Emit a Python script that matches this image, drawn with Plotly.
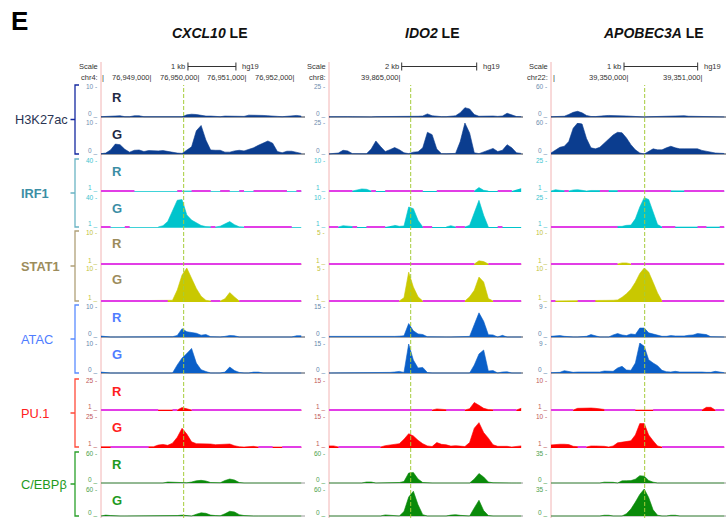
import plotly.graph_objects as go

W, H = 726, 518
N = None

# ---------------- genome windows (hg19) ----------------
GENES = ["CXCL10", "IDO2", "APOBEC3A"]
CHROMS = ["chr4:", "chr8:", "chr22:"]
WIN_START = [76947910, 39863053, 39348928]
WIN_END = [76952189, 39868227, 39351293]
BIN_BP = [100, 125, 60]
LE_POS = [76949644, 39865232, 39350194]
RULER_TICKS = [[76948000, 76949000, 76950000, 76951000, 76952000],
               [39865000],
               [39349000, 39350000, 39351000]]
RULER_LABELED = [[False, True, True, True, True], [True], [False, True, True]]
SCALE_BAR_START = [76949734, 39864992, 39349915]
SCALE_BAR_END = [76950740, 39866992, 39350910]
SCALE_BAR_TEXT = ["1 kb", "2 kb", "1 kb"]

MARKS = ["H3K27ac", "IRF1", "STAT1", "ATAC", "PU.1", "C/EBPβ"]
CONDS = ["R", "G"]
BASE_VAL = [0, 1, 1, 0, 1, 0]
TOP_VAL = {
    "H3K27ac": [10, 25, 60],
    "IRF1": [40, 10, 25],
    "STAT1": [10, 5, 10],
    "ATAC": [10, 15, 9],
    "PU.1": [25, 15, 10],
    "C/EBPβ": [60, 60, 35],
}

# ---------------- CXCL10 signal (100 bp bins) ----------------
CXCL10_H3K27AC_R = [0.1, 0.2, 0.4, 0.5, 0.4, 0.1, 0.1, 0.4, 0.4, 0.1,
                    0.1, 0.1, 0.1, 0.1, 0.1, 0.1, 0.1, 0.1, 0.7, 0.9,
                    0.8, 0.5, 0.3, 0.3, 0.2, 0.1, 0.3, 0.3, 0.1, 0.1,
                    0.2, 0.6, 0.6, 0.7, 0.5, 0.4, 0.4, 0.2, 0.1, 0.2,
                    0.5, 0.5, 0.3]
CXCL10_H3K27AC_G = [0.1, 0.3, 1.3, 3.2, 3.0, 1.5, 0.6, 1.2, 1.3, 0.8,
                    1.1, 1.0, 1.0, 1.1, 0.8, 0.5, 0.3, 0.2, 1.2, 2.3,
                    7.5, 9.2, 4.5, 1.3, 1.2, 1.2, 0.6, 0.6, 1.0, 1.2,
                    1.0, 1.5, 2.0, 2.8, 3.5, 4.2, 3.5, 0.8, 0.4, 0.9,
                    0.9, 0.6, 0.2]
CXCL10_IRF1_R = [1, 1, 1, 1, 1, 1, 1, 1, N, N,
                 N, N, N, N, N, N, 1, 1, 1.5, 1,
                 1, 1, 1, 1, N, 1, 1, 1, N, 1,
                 1, N, 1, 1, 1, 1, 1, 1, 1, 1,
                 N, 1, 1]
CXCL10_IRF1_G = [1, 1, 1, N, N, 1, 1, N, N, N,
                 N, N, 1, 2.7, 8.2, 21, 35.8, 36.6, 16.7, 10,
                 6, 3, 1.5, 1, 1, 2, 5.2, 8, 4, 1.2,
                 1, 1, 1, 1, 1, 1, 1, 1, 1, 1,
                 1, N, 1]
CXCL10_STAT1_R = [1] * 43
CXCL10_STAT1_G = [1, 1, 1, 1, 1, 1, 1, 1, 1, 1,
                  1, 1, 1, 1, 1, 1.2, 4, 8.1, 10, 7.2,
                  4.4, 2.3, 1.2, 1, 1, 1, 1.6, 3.3, 2.1, 1,
                  1, 1, 1, 1, 1, 1, 1, 1, 1, 1,
                  1, 1, 1]
CXCL10_ATAC_R = [0.3, 0.1, 0, 0, 0, 0, 0, 0, 0, 0,
                 0, 0, 0, 0, 0, 0.1, 0.5, 2.7, 1.7, 1.4,
                 1.2, 0.6, 0.8, 0.1, 0, 0, 0.2, 0.5, 0.4, 0,
                 0, 0, 0, 0, 0, 0, 0, 0, 0, 0,
                 0, 0.4, 0.4]
CXCL10_ATAC_G = [0.3, 0.1, 0, 0, 0, 0, 0, 0, 0, 0,
                 0, 0, 0, 0, 0, 0, 2.7, 5.0, 6.5, 8.2,
                 3.3, 1.1, 0.5, 0, 0, 0, 0.3, 2.0, 0.8, 0.2,
                 0, 0, 0.3, 0.3, 0, 0, 0, 0, 0, 0,
                 0, 0, 0]
CXCL10_PU1_R = [1, 1, 1, 1, 1, 1, 1, 1, 1, 1,
                1, 1, 1, 1.2, 1.2, 1, 1, 2.9, 2.2, 1,
                1, 1, 1, 1, 1, 1, 1, 1, 1, 1,
                1, 1, 1, 1, 1, 1, 1, 1, 1, 1,
                1, 1, 1]
CXCL10_PU1_G = [1.2, 1.2, 1, 1, 1, 1, 1, 1, 1, 1,
                1, 1.2, 2.5, 3.0, 2.3, 4.0, 8.5, 15.5, 11.0, 5.0,
                3.6, 3.6, 3.6, 3.3, 2.8, 2.8, 3.3, 3.3, 2.0, 1.2,
                1, 1.5, 1.5, 1, 1, 1, 1, 1.3, 1, 1,
                1, 1, 1]
CXCL10_CEBPB_R = [0, 0, 0, 0, 0, 0, 0, 0, 0, 0,
                  0, 0, 0, 0, 2, 1.5, 0, 0, 0.5, 2,
                  4.5, 5.3, 4, 1, 0, 0.5, 5, 8, 6, 1,
                  0, 0, 0, 0, 0, 0, 0, 0, 0, 0,
                  0, 0, 0]
CXCL10_CEBPB_G = [0, 2, 1, 0, 0, 0, 0, 0, 0, 0,
                  0, 0, 0, 0, 0, 0, 1, 2, 0.5, 0,
                  4, 7, 6, 2, 1, 0.5, 5, 10.5, 9, 3,
                  1, 0, 0, 0, 0, 0.5, 0.5, 0.5, 0.5, 0,
                  0, 0, 0]

# ---------------- IDO2 signal (125 bp bins) ----------------
IDO2_H3K27AC_R = [0.2, 0.3, 0.6, 0.8, 0.3, 0.2, 0.1, 0.1, 0.1, 0.1,
                  0.3, 0.3, 0.1, 0.1, 0.3, 0.3, 0.1, 0.1, 0.5, 0.6,
                  0.8, 2.5, 1.0, 0.4, 0.3, 0.3, 0.5, 1.0, 3.5, 7.5,
                  6.5, 2.0, 0.6, 0.8, 0.8, 0.8, 0.5, 0.8, 3.0, 2.0,
                  0.4, 0.3]
IDO2_H3K27AC_G = [0.1, 0.2, 0.8, 3.0, 2.5, 0.3, 0.1, 0.1, 0.2, 4.0,
                  10.5, 6.0, 2.0, 3.5, 5.2, 3.5, 1.0, 0.3, 1.5, 1.8,
                  5.0, 17.5, 15.6, 4.0, 0.3, 0.2, 0.3, 0.5, 10.0, 25.0,
                  17.0, 1.0, 0.3, 1.5, 3.0, 4.5, 2.0, 3.0, 7.5, 5.0,
                  1.0, 0.5]
IDO2_IRF1_R = [1, 1, 1, 1, 1, 1, 1.3, 1.6, 1.5, 1,
               1, N, 1, 1, 1, 1, 1, 1, 1, 1,
               1, N, N, 1, 1, 1, 1, 1, 1, 1,
               1, 1, 2.0, 1.2, 1, N, 1, 1, 1, 1,
               N, 1.8]
IDO2_IRF1_G = [1, 1, 1, 1.4, 1.2, 1, 1, N, 1, 1,
               1, 1, 1, N, 1.5, 1.2, 1.3, 7.0, 6.5, 3.0,
               1, 1, 1, N, N, 1, 1.4, 1, 1, 1,
               1.5, 5.0, 9.0, 4.5, 1, N, 1, 1, N, 1,
               N, 1]
IDO2_STAT1_R = [1, 1, 1, 1, 1, 1, 1, 1, 1, 1,
                1, 1, 1, 1, 1, 1, 1, 1, 1, 1,
                1, 1, 1, 1, 1, 1, 1, 1, 1, 1,
                1, 1, 1.4, 1.3, 1, 1, 1, 1, 1, 1,
                1, 1]
IDO2_STAT1_G = [1, 1, 1, 1, 1, 1, 1, 1, 1, 1,
                1, 1, 1, 1, 1, 1, 1.4, 4.5, 2.7, 1.5,
                1, 1, 1, 1, 1, 1, 1, 1, 1, 1,
                1.5, 2.3, 3.9, 3.3, 1.3, 1, 1, 1, 1, 1,
                1, 1]
IDO2_ATAC_R = [0.3, 0.3, 0.3, 0.2, 0.3, 0, 0, 0, 0, 0,
               0, 0, 0, 0.3, 0.3, 0.4, 0.6, 6.5, 3.0, 1.5,
               1.2, 0.1, 0, 0, 0, 0, 0, 0, 0, 0,
               0.3, 6.0, 11.7, 7.6, 1.1, 1.0, 0, 0.8, 0, 0,
               0, 0]
IDO2_ATAC_G = [0, 0, 0, 0, 0, 0, 0, 0, 0, 0,
               0, 0, 0, 0.3, 0.5, 0.8, 0.3, 14.5, 6.5, 2.5,
               2.8, 0.2, 0, 0, 0, 0, 0, 0, 0, 0,
               0, 4.0, 9.5, 11.5, 1.0, 1.2, 0, 0.5, 0.6, 0,
               0, 0]
IDO2_PU1_R = [1, 1, 1, 1, 1, 1, 1, 1, 1, 1,
              1, 1, 1, 1, 1, 1, 1, 1, 1, 1,
              1, 1, 1, 1.5, 1.3, 1, 1, 1, 1, 1,
              1.6, 4.5, 3.2, 1.8, 1.2, 1, 1, 1, 1, 1,
              1, 1.8]
IDO2_PU1_G = [1.5, 1.5, 1, 1, 1, 1, 1, 1, 1, 1,
              1, 1, 1.6, 1.8, 2.0, 2.5, 4.5, 7.0, 6.0, 4.0,
              2.5, 1.5, 1.2, 3.0, 2.2, 2.0, 1.4, 1.6, 1.4, 1.2,
              3.0, 9.5, 12.0, 7.5, 5.0, 2.0, 1.3, 1.4, 1.3, 1,
              1.2, 1.5]
IDO2_CEBPB_R = [0, 0, 0, 0, 0, 0, 0, 0, 2, 2,
                0, 0, 0, 0, 0, 1, 3, 20, 21, 8,
                1, 0, 0, 0, 0, 0, 0, 0, 0, 0,
                0, 8, 19, 12, 2, 0.5, 0, 0, 0, 0,
                0, 0]
IDO2_CEBPB_G = [0, 0, 0, 0, 0, 0.5, 0, 1, 0, 0,
                0, 0, 2.5, 2, 0, 0, 10, 42, 55, 25,
                3, 0, 0, 0, 0, 0, 2, 3, 1.5, 0,
                0, 18, 35, 12, 1, 0, 0, 0, 0, 0,
                0, 0]

# ---------------- APOBEC3A signal (60 bp bins) ----------------
APOBEC3A_H3K27AC_R = [0.5, 0.5, 0.5, 1.5, 5, 9, 11, 8, 3, 1,
                      0.8, 1, 2.5, 3, 3, 2.5, 2.5, 2, 1.5, 0.8,
                      0.5, 0, 0.5, 0.8, 1, 1, 1, 1, 1.5, 3,
                      2.5, 1.5, 1.5, 1.2, 1, 0.5, 0.3, 0.2, 0.2, 0.2]
APOBEC3A_H3K27AC_G = [2, 8, 13, 15, 24, 50, 60, 58, 30, 12,
                      10, 13, 21, 30, 37, 42, 41, 31, 18, 8,
                      2, 0, 4.5, 10, 8, 8, 12, 15, 12, 10,
                      10, 10, 11, 10, 7, 5, 3, 2, 1.5, 1]
APOBEC3A_IRF1_R = [1, 2.0, 1.5, 1, 1, 1.8, 2.0, 1.5, 1, 1.4,
                   1.4, 1, 1, 1, 1.3, 1, 1, 1, 1, 1,
                   1, 1, 1, 1, 1, 1, 1, 1, 1.3, 1.3,
                   1, 1, 1, 1, 1, 1, 1, 1, 1, 1]
APOBEC3A_IRF1_G = [1, 1, 1, 1, 1, 1, 1, 1, 1, 1,
                   1, 1, 1, 1, 1, 1, 1.5, 2.3, 2.5, 7.5,
                   17, 24.5, 23, 13, 3, 1, 1, 1, 1, 1.3,
                   1.3, 1.3, 1.3, 1, 1, 1, 1.3, 1.3, 1, 1]
APOBEC3A_STAT1_R = [1, 1, 1, 1, 1, 1, 1, 1, 1, 1,
                    1, 1, 1, 1, 1, 1, 1.3, 1.3, 1, 1,
                    1, 1, 1, 1, 1, 1, 1, 1, 1, 1,
                    1, 1, 1, 1, 1, 1, 1, 1, 1, 1]
APOBEC3A_STAT1_G = [1, 1, 1.2, 1.2, 1.2, 1.2, 1, 1, 1, 1,
                    1, 1.2, 1.2, 1, 1.2, 1.3, 2, 3, 4.2, 6.1,
                    8.5, 10, 8.9, 6.1, 3.2, 1, 1, 1, 1, 1,
                    1, 1, 1, 1, 1, 1, 1, 1, 1, 1]
APOBEC3A_ATAC_R = [0.2, 0.3, 0.4, 0.2, 0, 0, 0, 0, 0.2, 0.7,
                   0.3, 0, 0, 0, 0.6, 1.0, 0.6, 0.4, 0.9, 0.7,
                   2.6, 2.6, 1.2, 0.9, 0.6, 0.2, 0.2, 0.4, 0.3, 0.2,
                   0.3, 0.5, 0.6, 1.0, 0.8, 0.7, 0.1, 0, 0, 0]
APOBEC3A_ATAC_G = [0.1, 0.1, 0.2, 0.7, 0.5, 0.2, 0.3, 0.3, 0.3, 0.3,
                   0.4, 0.3, 0.6, 0.6, 0.5, 1.5, 2.0, 0.9, 0.8, 3.0,
                   9.0, 8.0, 4.0, 3.0, 2.2, 0.8, 0.4, 0.3, 0.5, 0.3,
                   0.3, 0.4, 0.5, 0.4, 0.3, 0.2, 0.2, 0.5, 0.2, 0.1]
APOBEC3A_PU1_R = [1, 1, 1, 1, 1, 1, 1.5, 1.6, 1.6, 1.6,
                  1.5, 1.3, 1, 1, 1, 1, 1, 1, 1, 1,
                  1.1, 1.1, 1.1, 1, 1, 1, 1, 1, 1, 1,
                  1, 1, 1, 1, 1, 1.8, 1.8, 1, 1, 1]
APOBEC3A_PU1_G = [1.6, 1.8, 1.8, 1.8, 1.7, 1.2, 1, 1, 1, 1.3,
                  1.3, 1.3, 1.2, 1, 1.3, 2.2, 2.4, 2.6, 2.8, 4.5,
                  7.8, 7.8, 4.5, 2.8, 1.3, 1, 1, 1, 1, 1,
                  1, 1, 1, 1, 1, 1, 1, 1, 1, 1]
APOBEC3A_CEBPB_R = [0, 0, 0, 0, 0, 0.6, 0.6, 0.5, 0, 0,
                    0, 0, 1.0, 1.2, 0.8, 0, 2.5, 2.7, 2.8, 4.5,
                    8.5, 8.0, 3.0, 1.0, 0, 0, 0, 0, 0, 0,
                    0, 0, 0, 0, 0, 0, 0, 0, 0, 0]
APOBEC3A_CEBPB_G = [0, 0, 0, 0, 0, 0, 0, 0, 0, 0,
                    0, 0, 1, 1, 0, 0, 0, 3, 9, 18,
                    28, 35, 24, 8, 1, 0, 0, 1, 1, 0,
                    0, 0, 0, 0, 0, 0, 0, 0, 0, 0]

TRACKS = {
    "CXCL10": {"H3K27ac": (CXCL10_H3K27AC_R, CXCL10_H3K27AC_G),
               "IRF1": (CXCL10_IRF1_R, CXCL10_IRF1_G),
               "STAT1": (CXCL10_STAT1_R, CXCL10_STAT1_G),
               "ATAC": (CXCL10_ATAC_R, CXCL10_ATAC_G),
               "PU.1": (CXCL10_PU1_R, CXCL10_PU1_G),
               "C/EBPβ": (CXCL10_CEBPB_R, CXCL10_CEBPB_G)},
    "IDO2": {"H3K27ac": (IDO2_H3K27AC_R, IDO2_H3K27AC_G),
             "IRF1": (IDO2_IRF1_R, IDO2_IRF1_G),
             "STAT1": (IDO2_STAT1_R, IDO2_STAT1_G),
             "ATAC": (IDO2_ATAC_R, IDO2_ATAC_G),
             "PU.1": (IDO2_PU1_R, IDO2_PU1_G),
             "C/EBPβ": (IDO2_CEBPB_R, IDO2_CEBPB_G)},
    "APOBEC3A": {"H3K27ac": (APOBEC3A_H3K27AC_R, APOBEC3A_H3K27AC_G),
                 "IRF1": (APOBEC3A_IRF1_R, APOBEC3A_IRF1_G),
                 "STAT1": (APOBEC3A_STAT1_R, APOBEC3A_STAT1_G),
                 "ATAC": (APOBEC3A_ATAC_R, APOBEC3A_ATAC_G),
                 "PU.1": (APOBEC3A_PU1_R, APOBEC3A_PU1_G),
                 "C/EBPβ": (APOBEC3A_CEBPB_R, APOBEC3A_CEBPB_G)},
}

# ---------------- styling ----------------
FONT = "Liberation Sans, Arial, Helvetica, sans-serif"
FILL = ["#0b3d8f", "#00c4cc", "#c9c800", "#0a5fc8", "#ff0000", "#0a8a0a"]
LABEL_COLOR = ["#2b3553", "#3b8ea5", "#9c8c5c", "#4f7dff", "#ff2020", "#1e9a1e"]
LABEL_BOLD = [False, True, True, False, False, False]
BRACKET_COLOR = ["#1428a0", "#6ab4c4", "#b0a078", "#5a8cff", "#ff4a3a", "#2aa02a"]
TICK_COLOR = ["#6f8db0", "#3cc4cf", "#c2c23a", "#5f86ad", "#c05858", "#4ea04e"]
BASELINE_COLOR = ["#303848", None, None, "#404858", None, "#9a9a9a"]
RG_COLOR = ["#1f2a44", "#3b8ea5", "#9c8c5c", "#4f7dff", "#ff2020", "#1e9a1e"]
MAGENTA = "#e23de6"
COL_PX = [(101, 305), (329, 523), (551, 726)]
TITLE_X_PX = [210, 432, 653]
LABEL_X_PX = [13, 19, 19, 19, 19, 19]
TRACK_TOP_PX = [86, 123, 160, 197, 232, 268, 306, 343, 380, 416, 453, 489]
TRACK_BASE_PX = [117, 154, 191, 227, 264, 301, 337, 373, 410, 447, 483, 516]
EPS_PX = 1.0


def px(p):
    return p / W


def py(p):
    return 1 - p / H


fig = go.Figure()
layout = {}
annotations = []
shapes = []

k = 0
for c, gene in enumerate(GENES):
    l, r = COL_PX[c]
    first_axis = k + 1
    for m, mark in enumerate(MARKS):
        base = BASE_VAL[m]
        top = TOP_VAL[mark][c]
        for rr, cond in enumerate(CONDS):
            row = 2 * m + rr
            k += 1
            vals = TRACKS[gene][mark][rr]
            xs = [WIN_START[c] + i * BIN_BP[c] for i in range(len(vals))]
            tp, bp = TRACK_TOP_PX[row], TRACK_BASE_PX[row]
            per_px = (top - base) / (bp - tp)
            lo = base - EPS_PX * per_px
            layout[f"xaxis{k}"] = dict(domain=[px(l), px(r)], range=[WIN_START[c], WIN_END[c]],
                                       visible=False, fixedrange=True, anchor=f"y{k}")
            layout[f"yaxis{k}"] = dict(domain=[py(bp + EPS_PX), py(tp)], range=[lo, top],
                                       visible=False, fixedrange=True, anchor=f"x{k}")
            xa, ya = f"x{k}", f"y{k}"
            if base == 0:
                fig.add_trace(go.Scatter(x=[WIN_START[c], WIN_END[c]], y=[0, 0], mode="lines",
                                         line=dict(color=BASELINE_COLOR[m], width=1),
                                         xaxis=xa, yaxis=ya, hoverinfo="skip"))
            fig.add_trace(go.Scatter(x=xs, y=vals, mode="lines",
                                     line=dict(color=FILL[m], width=0.6),
                                     fill="tozeroy", fillcolor=FILL[m], connectgaps=False,
                                     xaxis=xa, yaxis=ya, hoverinfo="skip"))
            if base != 0:
                bl = [base if (v is not None and v <= base) else None for v in vals]
                fig.add_trace(go.Scatter(x=xs, y=bl, mode="lines", connectgaps=False,
                                         line=dict(color=MAGENTA, width=2),
                                         xaxis=xa, yaxis=ya, hoverinfo="skip"))
            # scale labels on the left of each track
            annotations.append(dict(x=px(l - 2), y=py(tp), xref="paper", yref="paper",
                                    text=f"{top} -", showarrow=False, xanchor="right",
                                    yanchor="middle", font=dict(size=6.5, color=TICK_COLOR[m], family=FONT)))
            annotations.append(dict(x=px(l - 2), y=py(bp - 3), xref="paper", yref="paper",
                                    text=f"{base} _", showarrow=False, xanchor="right",
                                    yanchor="middle", font=dict(size=6.5, color=TICK_COLOR[m], family=FONT)))
            if c == 0:
                annotations.append(dict(x=px(l + 16), y=py(tp + 11.5), xref="paper", yref="paper",
                                        text=f"<b>{cond}</b>", showarrow=False, xanchor="center",
                                        yanchor="middle", font=dict(size=13, color=RG_COLOR[m], family=FONT)))

    fx = f"x{first_axis}"
    # LE position dashed line
    shapes.append(dict(type="line", xref=fx, yref="paper", x0=LE_POS[c], x1=LE_POS[c],
                       y0=0, y1=py(85), line=dict(color="#a6cc3a", width=1, dash="4px,2px"),
                       layer="above"))
    # pink left border
    shapes.append(dict(type="line", xref="paper", yref="paper", x0=px(l), x1=px(l),
                       y0=0, y1=py(62), line=dict(color="#f2b4b4", width=1), layer="below"))
    # title
    annotations.append(dict(x=px(TITLE_X_PX[c]), y=py(33), xref="paper", yref="paper",
                            text=f"<b><i>{gene}</i> LE</b>", showarrow=False, xanchor="center",
                            yanchor="middle", font=dict(size=14, color="#111111", family=FONT)))
    # Scale / chrom labels
    annotations.append(dict(x=px(l - 1), y=py(67), xref="paper", yref="paper", text="Scale",
                            showarrow=False, xanchor="right", yanchor="middle",
                            font=dict(size=7.5, color="#333333", family=FONT)))
    annotations.append(dict(x=px(l - 1), y=py(77), xref="paper", yref="paper", text=CHROMS[c],
                            showarrow=False, xanchor="right", yanchor="middle",
                            font=dict(size=7.5, color="#333333", family=FONT)))
    # coordinate ruler
    for t, lab in zip(RULER_TICKS[c], RULER_LABELED[c]):
        txt = f"{t:,}|" if lab else "|"
        annotations.append(dict(x=t, y=py(77), xref=fx, yref="paper", text=txt,
                                showarrow=False, xanchor="right", yanchor="middle", xshift=1,
                                font=dict(size=7.5, color="#333333", family=FONT)))
    # scale bar
    s0, s1 = SCALE_BAR_START[c], SCALE_BAR_END[c]
    shapes.append(dict(type="line", xref=fx, yref="paper", x0=s0, x1=s1, y0=py(66.5), y1=py(66.5),
                       line=dict(color="#333333", width=1)))
    for sx in (s0, s1):
        shapes.append(dict(type="line", xref=fx, yref="paper", x0=sx, x1=sx, y0=py(62.5), y1=py(70.5),
                           line=dict(color="#333333", width=1)))
    annotations.append(dict(x=s0, y=py(67), xref=fx, yref="paper", text=SCALE_BAR_TEXT[c],
                            showarrow=False, xanchor="right", yanchor="middle", xshift=-1,
                            font=dict(size=7.5, color="#333333", family=FONT)))
    annotations.append(dict(x=s1, y=py(67), xref=fx, yref="paper", text="hg19",
                            showarrow=False, xanchor="left", yanchor="middle", xshift=4,
                            font=dict(size=7.5, color="#333333", family=FONT)))

# left mark labels with brackets
for m, mark in enumerate(MARKS):
    t = TRACK_TOP_PX[2 * m] - 1
    b = TRACK_BASE_PX[2 * m + 1]
    mid = (t + b) / 2
    col = BRACKET_COLOR[m]
    path = (f"M {px(79)} {py(t)} L {px(75)} {py(t)} L {px(75)} {py(b)} L {px(79)} {py(b)} "
            f"M {px(75)} {py(mid)} L {px(70.5)} {py(mid)}")
    shapes.append(dict(type="path", xref="paper", yref="paper", path=path,
                       line=dict(color=col, width=1.3)))
    txt = f"<b>{mark}</b>" if LABEL_BOLD[m] else mark
    annotations.append(dict(x=px(LABEL_X_PX[m]), y=py(mid), xref="paper", yref="paper",
                            text=txt, showarrow=False, xanchor="left", yanchor="middle",
                            font=dict(size=12.8, color=LABEL_COLOR[m], family=FONT)))

# panel letter
annotations.append(dict(x=px(9), y=py(21), xref="paper", yref="paper", text="<b>E</b>",
                        showarrow=False, xanchor="left", yanchor="middle",
                        font=dict(size=26, color="#000000", family=FONT)))

fig.update_layout(width=W, height=H, margin=dict(l=0, r=0, t=0, b=0),
                  paper_bgcolor="white", plot_bgcolor="rgba(0,0,0,0)", showlegend=False,
                  annotations=annotations, shapes=shapes, **layout)
fig.write_html("out.html")
